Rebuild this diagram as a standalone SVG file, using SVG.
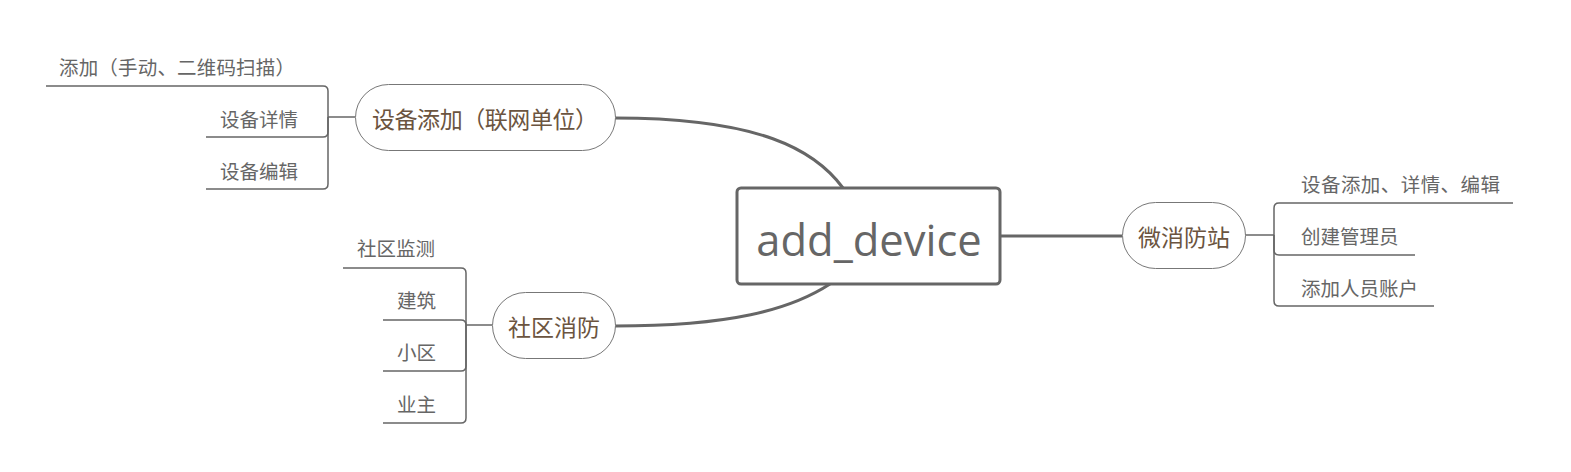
<svg xmlns="http://www.w3.org/2000/svg" width="1571" height="472" viewBox="0 0 1571 472">
<style>
.conn{fill:none;stroke:#666;stroke-width:3}
.br{fill:none;stroke:#666;stroke-width:1.5}
.pill{fill:#fff;stroke:#777;stroke-width:1}
.pt{font-family:"Noto Sans CJK SC","Noto Sans",sans-serif;font-size:23px;fill:#6b5440;text-anchor:middle}
.ct{font-family:"Noto Sans CJK SC","Noto Sans",sans-serif;font-size:19.5px;fill:#666}
.root{fill:#fff;stroke:#666;stroke-width:3}
.rt{font-family:"Open Sans","Noto Sans",sans-serif;font-size:43.5px;fill:#666;text-anchor:middle}
</style>
<rect width="1571" height="472" fill="#fff"/>
<g id="connectors">
<path class="conn" d="M615,118 C760,118 815,150 843,188"/>
<path class="conn" d="M615,326 C730,326 790,310 830,284"/>
<path class="conn" d="M1000,236 L1122,236"/>
<path class="br" d="M355,117 H328"/>
<path class="br" d="M328,117 V91 Q328,86 323,86 H46"/>
<path class="br" d="M328,117 V132 Q328,137 323,137 H206"/>
<path class="br" d="M328,117 V184 Q328,189 323,189 H206"/>
<path class="br" d="M492,325 H466"/>
<path class="br" d="M466,325 V273 Q466,268 461,268 H343"/>
<path class="br" d="M466,325 Q466,320 461,320 H383"/>
<path class="br" d="M466,325 V366 Q466,371 461,371 H383"/>
<path class="br" d="M466,325 V418 Q466,423 461,423 H383"/>
<path class="br" d="M1245,235 H1274"/>
<path class="br" d="M1274,235 V208 Q1274,203 1279,203 H1513"/>
<path class="br" d="M1274,235 V250 Q1274,255 1279,255 H1415"/>
<path class="br" d="M1274,235 V301 Q1274,306 1279,306 H1434"/>
</g>
<g id="root">
<rect class="root" x="737" y="188" width="263" height="96" rx="4"/>
<text class="rt" x="869" y="256">add_device</text>
</g>
<g id="n1">
<rect class="pill" x="355.5" y="84.5" width="260" height="66" rx="33"/>
<text class="pt" x="485" y="128" textLength="226">设备添加（联网单位）</text>
</g>
<g id="n1a"><text class="ct" x="59" y="75" textLength="236">添加（手动、二维码扫描）</text></g>
<g id="n1b"><text class="ct" x="220" y="127">设备详情</text></g>
<g id="n1c"><text class="ct" x="220" y="179">设备编辑</text></g>
<g id="n2">
<rect class="pill" x="492.5" y="292.5" width="123" height="66" rx="33"/>
<text class="pt" x="554" y="336">社区消防</text>
</g>
<g id="n2a"><text class="ct" x="357" y="256">社区监测</text></g>
<g id="n2b"><text class="ct" x="397" y="308">建筑</text></g>
<g id="n2c"><text class="ct" x="397" y="360">小区</text></g>
<g id="n2d"><text class="ct" x="397" y="412">业主</text></g>
<g id="n3">
<rect class="pill" x="1122.5" y="202.5" width="123" height="66" rx="33"/>
<text class="pt" x="1184" y="246">微消防站</text>
</g>
<g id="n3a"><text class="ct" x="1301" y="192" textLength="199">设备添加、详情、编辑</text></g>
<g id="n3b"><text class="ct" x="1301" y="244">创建管理员</text></g>
<g id="n3c"><text class="ct" x="1301" y="296">添加人员账户</text></g>
</svg>
